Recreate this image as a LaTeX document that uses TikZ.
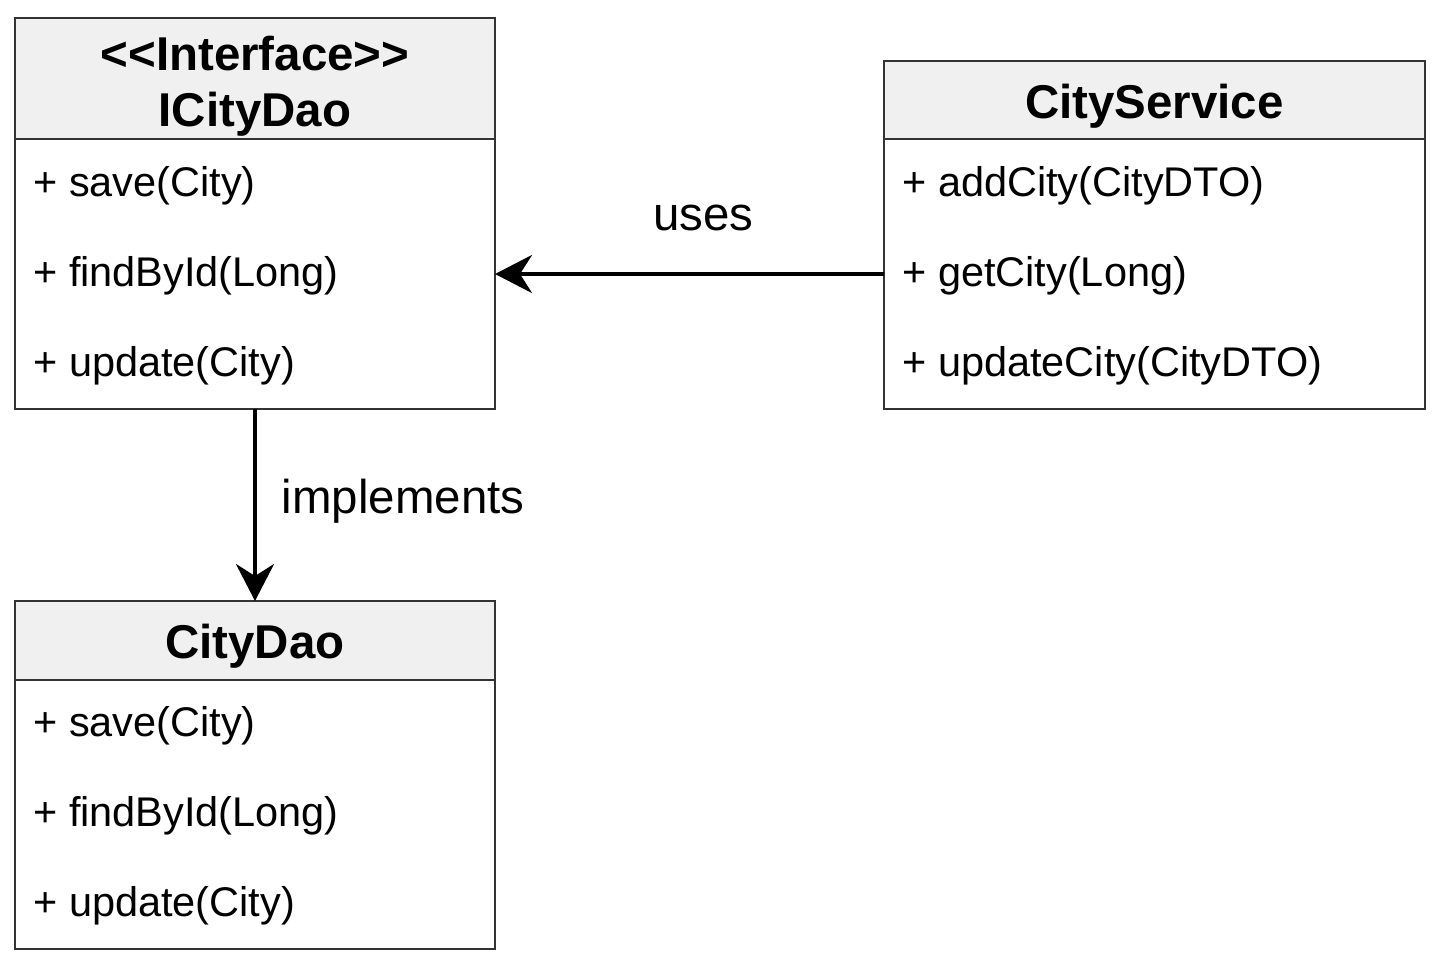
\documentclass[tikz,border=0pt]{standalone}
\usepackage{fontspec}
\setmainfont{Liberation Sans}
\usetikzlibrary{arrows.meta, positioning}
\definecolor{headgray}{HTML}{F0F0F0}
\definecolor{linegray}{HTML}{333333}

\begin{document}
\begin{tikzpicture}[>=Stealth,
    head/.style={rectangle, draw=linegray, line width=1.1pt, fill=headgray, outer sep=0pt, align=center, text height=26.5pt, text depth=5.7pt, font=\fontsize{27}{32}\selectfont\bfseries},
    body/.style={rectangle, draw=linegray, line width=1.1pt, fill=white, outer sep=0pt},
    meth/.style={anchor=west, inner sep=0pt, font=\fontsize{23.6}{28}\selectfont},
    lbl/.style={inner sep=0pt, font=\fontsize{27}{32}\selectfont},
    conn/.style={line width=2.2pt, -{Stealth[length=0.74cm, width=0.76cm]}}]
  \useasboundingbox (0,0) rectangle (28.82,-19.3);
  \node[head, text height=60.7pt, inner ysep=0pt, minimum width=9.6cm, minimum height=2.42cm] (ifchead) at (5.1,-1.57) {{<}{<}Interface{>}{>}\\ICityDao};
  \node[body, minimum width=9.6cm, minimum height=5.4cm, below=0pt of ifchead] (ifcbody) {};
  \node[meth] (ifcm1) at ([xshift=0.36cm, yshift=-0.94cm]ifcbody.north west) {+ save(City)};
  \node[meth] (ifcm2) at ([xshift=0.36cm, yshift=-2.74cm]ifcbody.north west) {+ findById(Long)};
  \node[meth] (ifcm3) at ([xshift=0.36cm, yshift=-4.54cm]ifcbody.north west) {+ update(City)};

  \node[head, minimum width=10.82cm, minimum height=1.56cm] (svchead) at (23.09,-2.0) {CityService};
  \node[body, minimum width=10.82cm, minimum height=5.4cm, below=0pt of svchead] (svcbody) {};
  \node[meth] (svcm1) at ([xshift=0.36cm, yshift=-0.94cm]svcbody.north west) {+ addCity(CityDTO)};
  \node[meth] (svcm2) at ([xshift=0.36cm, yshift=-2.74cm]svcbody.north west) {+ getCity(Long)};
  \node[meth] (svcm3) at ([xshift=0.36cm, yshift=-4.54cm]svcbody.north west) {+ updateCity(CityDTO)};

  \node[head, minimum width=9.6cm, minimum height=1.58cm] (daohead) at (5.1,-12.81) {CityDao};
  \node[body, minimum width=9.6cm, minimum height=5.38cm, below=0pt of daohead] (daobody) {};
  \node[meth] (daom1) at ([xshift=0.36cm, yshift=-0.92cm]daobody.north west) {+ save(City)};
  \node[meth] (daom2) at ([xshift=0.36cm, yshift=-2.72cm]daobody.north west) {+ findById(Long)};
  \node[meth] (daom3) at ([xshift=0.36cm, yshift=-4.52cm]daobody.north west) {+ update(City)};

  \draw[conn] (svcbody.west) -- node[lbl, above=0.82cm, pos=0.465] (uses) {uses} (ifcbody.east);
  \draw[conn] (ifcbody.south) -- node[lbl, right=0.5cm, pos=0.48] (impl) {implements} (daohead.north);
\end{tikzpicture}
\end{document}
